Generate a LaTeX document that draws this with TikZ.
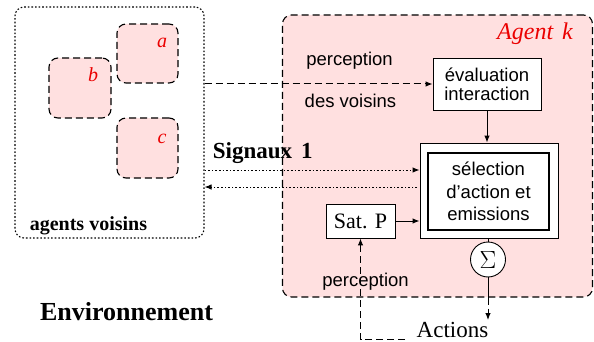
\documentclass[tikz,border=0pt]{standalone}
\usepackage{fontspec}
\setmainfont{Liberation Serif}
\setsansfont{Liberation Sans}
\usetikzlibrary{arrows.meta}
\definecolor{agpink}{RGB}{255,224,224}
\definecolor{agred}{RGB}{235,0,0}
\begin{document}
\begin{tikzpicture}[x=1pt,y=-1pt,
  tip/.style={-{Latex[length=7pt,width=5.5pt]}},
  dsh/.style={dash pattern=on 7pt off 4pt},
  dts/.style={dash pattern=on 1.6pt off 2pt},
  frame/.style={draw,rectangle,inner sep=0pt,line width=1.1pt},
  nbox/.style={frame,rounded corners=9pt,dsh,fill=agpink},
  wbox/.style={draw,rectangle,inner sep=0pt,fill=white,line width=0.9pt,align=center},
  sansf/.style={font={\sffamily\fontsize{18.5}{19}\selectfont}},
  redit/.style={text=agred,font={\itshape\fontsize{20}{20}\selectfont},anchor=base},
  serb/.style={font={\bfseries\fontsize{20}{20}\selectfont}},
  line width=1pt]
\useasboundingbox (0,0) rectangle (594,342);
% left neighbourhood box
\node[frame,dts,rounded corners=9pt,minimum width=189pt,minimum height=231pt] (voisins) at (109.5,122.5) {};
\node[nbox,minimum width=61pt,minimum height=59pt] (na) at (147.5,53.5) {};
\node[nbox,minimum width=62pt,minimum height=60pt] (nb) at (80,88) {};
\node[nbox,minimum width=61pt,minimum height=60pt] (nc) at (147.5,148) {};
\node[redit] (la) at (162,48) {a};
\node[redit] (lb) at (93,82) {b};
\node[redit] (lc) at (162,143) {c};
\node[serb,anchor=base west] (av) at (26,230) {agents voisins};
% agent k
\node[nbox,minimum width=310pt,minimum height=282pt] (agk) at (437.5,156) {};
\node[redit,font={\itshape\fontsize{24}{24}\selectfont}] (agkl) at (535,40) {Agent\hspace{9pt}k};
\node[wbox,sansf,minimum width=108pt,minimum height=52pt] (eval) at (487,84) {évaluation\\interaction};
\node[wbox,minimum width=138pt,minimum height=95pt] (selo) at (489,190.5) {};
\node[wbox,line width=1.6pt,minimum width=121pt,minimum height=77pt,font={\sffamily\fontsize{18.5}{22.5}\selectfont}] (seli) at (488.5,191.5) {sélection\\d'action et\\emissions};
\node[wbox,minimum width=69pt,minimum height=34pt,font={\fontsize{22}{22}\selectfont}] (satp) at (360.5,221) {Sat. P};
\node[draw,circle,fill=white,minimum size=35pt,inner sep=0pt,line width=0.9pt,font={\fontsize{24}{24}\selectfont}] (sig) at (488,259.5) {$\Sigma$};
% texts
\node[sansf,anchor=base] (perc1) at (349.5,66) {perception};
\node[sansf,anchor=base] (desv) at (350.5,108) {des voisins};
\node[sansf,anchor=base] (perc2) at (365.5,286) {perception};
\node[font={\fontsize{23}{23}\selectfont},anchor=base] (act) at (452.5,337) {Actions};
\node[font={\bfseries\fontsize{26}{26}\selectfont},anchor=base] (env) at (126.5,320) {Environnement};
\node[font={\bfseries\fontsize{23}{23}\selectfont},anchor=base west] (sign) at (209,158) {Signaux\hspace{9pt}1};
% connectors
\coordinate (s1) at (300,170);
\coordinate (s2) at (300,187);
\coordinate (s2r) at (417,187);
\coordinate (actl) at (405,339);
\coordinate (acttip) at (488,320);
\draw[dsh,tip] (voisins.east |- eval.west) -- (eval.west);
\draw[tip] (eval.south) -- (eval.south |- selo.north);
\draw[dts,tip] (voisins.east |- s1) -- (selo.west |- s1);
\draw[dts,tip] (s2r) -- (voisins.east |- s2);
\draw[tip] (satp.east) -- (selo.west |- satp.east);
\draw[dsh,tip] (actl) -- (satp.south |- actl) -- (satp.south);
\draw (selo.south -| sig.north) -- (sig.north);
\draw (sig.south) -- (sig.south |- agk.south);
\draw[dsh,tip] (sig.south |- agk.south) -- (acttip);
\end{tikzpicture}
\end{document}
